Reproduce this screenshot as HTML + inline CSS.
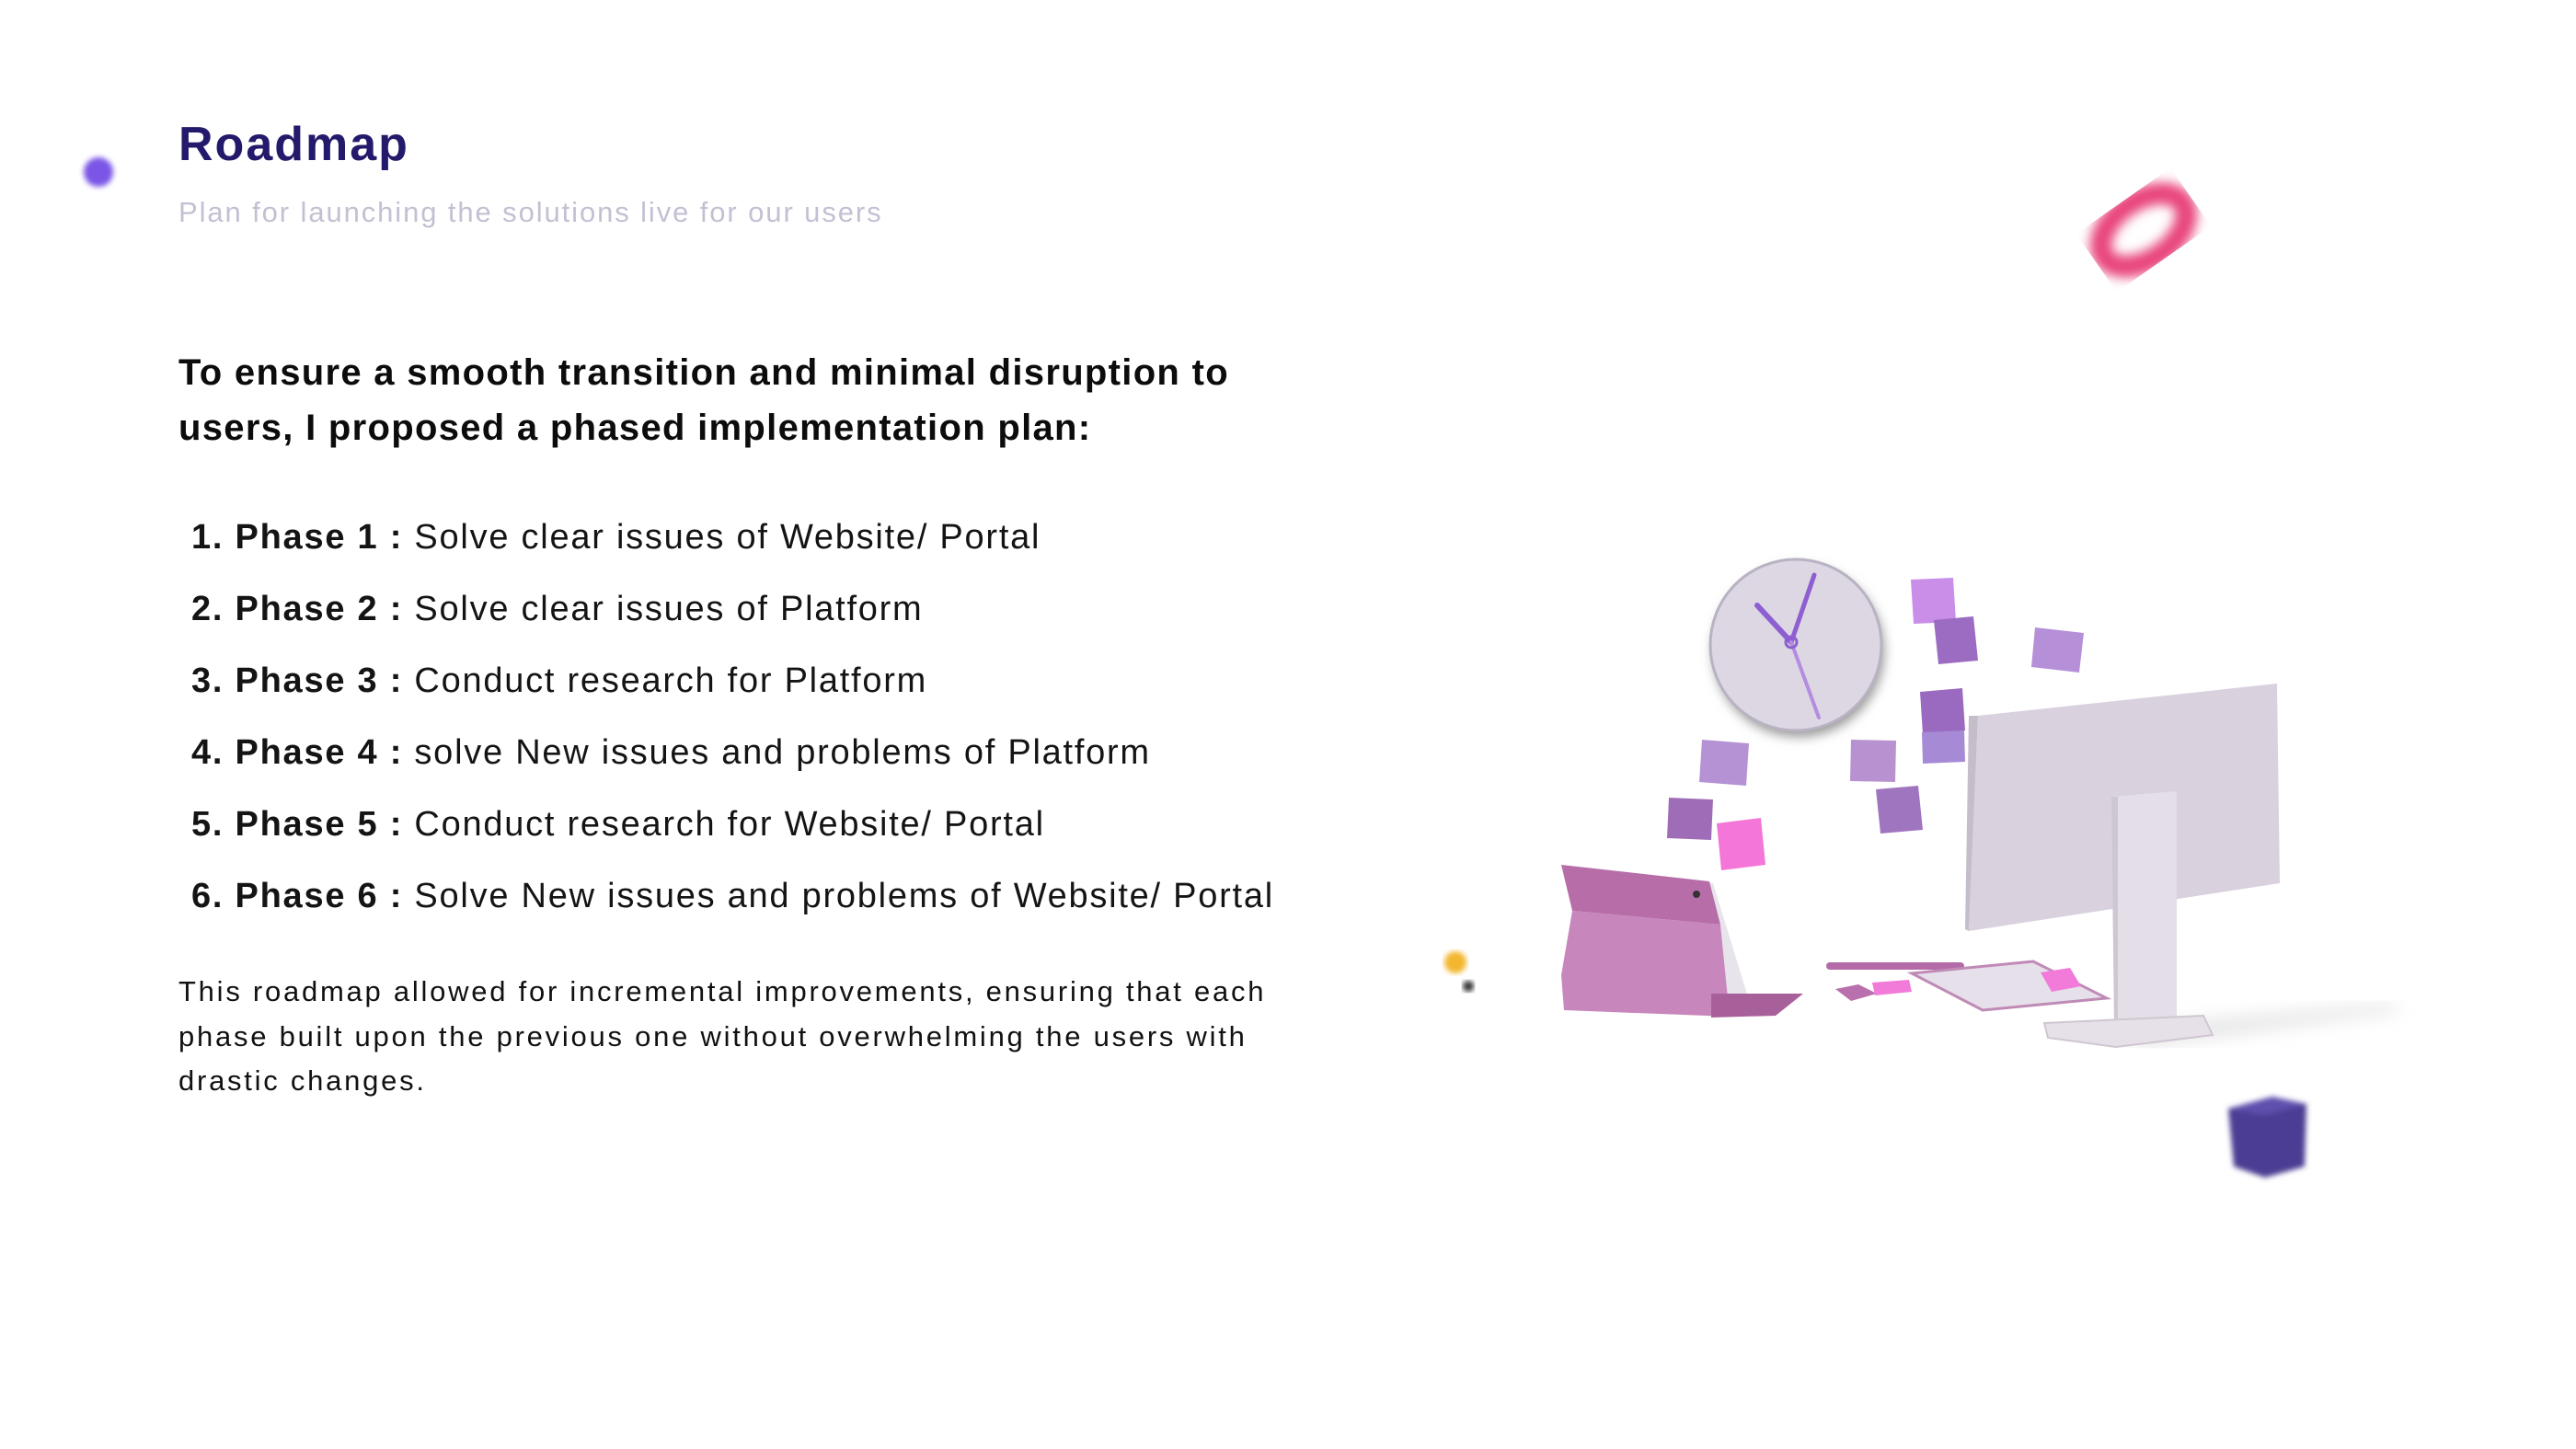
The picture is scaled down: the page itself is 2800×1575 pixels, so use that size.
<!DOCTYPE html>
<html><head><meta charset="utf-8"><style>
html,body{margin:0;padding:0;background:#fff;}
body{width:2800px;height:1575px;position:relative;overflow:hidden;font-family:"Liberation Sans",sans-serif;}
.t{position:absolute;white-space:nowrap;margin:0;}
#title{left:194px;top:127px;font-size:52px;line-height:60px;font-weight:bold;color:#241a6b;letter-spacing:2px;}
#sub{left:194px;top:211px;font-size:31px;line-height:40px;color:#c2c1d3;letter-spacing:1.9px;}
.h{left:194px;font-size:40px;line-height:60px;font-weight:bold;color:#0c0c0c;letter-spacing:1.3px;}
.li{left:208px;font-size:38px;line-height:78px;color:#141414;letter-spacing:1.75px;}
.li b{font-weight:bold;}
.p{left:194px;font-size:31px;line-height:48.5px;color:#111;letter-spacing:2.75px;}
</style></head><body>
<div style="position:absolute;left:91px;top:171px;width:32px;height:32px;border-radius:50%;background:#7b55e6;filter:blur(3px);"></div>
<div class="t" id="title">Roadmap</div>
<div class="t" id="sub">Plan for launching the solutions live for our users</div>
<div class="t h" style="top:375px;">To ensure a smooth transition and minimal disruption to</div>
<div class="t h" style="top:435px;">users, I proposed a phased implementation plan:</div>
<div class="t li" style="top:545px;"><b>1. Phase 1 :</b> Solve clear issues of Website/ Portal</div>
<div class="t li" style="top:623px;"><b>2. Phase 2 :</b> Solve clear issues of Platform</div>
<div class="t li" style="top:701px;"><b>3. Phase 3 :</b> Conduct research for Platform</div>
<div class="t li" style="top:779px;"><b>4. Phase 4 :</b> solve New issues and problems of Platform</div>
<div class="t li" style="top:857px;"><b>5. Phase 5 :</b> Conduct research for Website/ Portal</div>
<div class="t li" style="top:935px;"><b>6. Phase 6 :</b> Solve New issues and problems of Website/ Portal</div>
<div class="t p" style="top:1054px;">This roadmap allowed for incremental improvements, ensuring that each</div>
<div class="t p" style="top:1102.5px;">phase built upon the previous one without overwhelming the users with</div>
<div class="t p" style="top:1151px;">drastic changes.</div>

<svg style="position:absolute;left:0;top:0" width="2800" height="1575" viewBox="0 0 2800 1575">
<defs>
<filter id="b6"><feGaussianBlur stdDeviation="6"/></filter>
<filter id="b3"><feGaussianBlur stdDeviation="3"/></filter>
<filter id="b10"><feGaussianBlur stdDeviation="10"/></filter>
</defs>
<ellipse cx="2330" cy="250" rx="52" ry="32" transform="rotate(-35 2330 250)" fill="none" stroke="#e8457d" stroke-width="24" filter="url(#b6)"/>
<g filter="url(#b3)">
<polygon points="2422,1205 2470,1192 2507,1200 2505,1268 2462,1280 2428,1268" fill="#4b3c93"/>
<polygon points="2422,1205 2470,1192 2507,1200 2462,1212" fill="#5e4fae"/>
</g>
<circle cx="1582" cy="1046" r="12" fill="#f3b62d" filter="url(#b3)"/>
<circle cx="1596" cy="1072" r="6" fill="#333" filter="url(#b3)"/>
<polygon points="2300,1120 2600,1092 2610,1098 2330,1135" fill="#ddd" filter="url(#b10)"/>
<circle cx="1955" cy="708" r="93" fill="#999" filter="url(#b6)"/>
<circle cx="1952" cy="701" r="93" fill="#dcd7e3" stroke="#b8b2c2" stroke-width="3"/>
<line x1="1947" y1="698" x2="1910" y2="658" stroke="#8d5fd0" stroke-width="6" stroke-linecap="round"/>
<line x1="1947" y1="698" x2="1972" y2="625" stroke="#8d5fd0" stroke-width="5" stroke-linecap="round"/>
<line x1="1947" y1="698" x2="1977" y2="780" stroke="#b48ce0" stroke-width="4" stroke-linecap="round"/>
<circle cx="1947" cy="698" r="6" fill="none" stroke="#8d5fd0" stroke-width="3"/>
<g>
<polygon points="2077,630 2123,628 2126,676 2080,678" fill="#c88ee8"/>
<polygon points="2102,674 2145,670 2150,718 2107,722" fill="#9b6cc2"/>
<polygon points="2212,682 2265,688 2260,731 2208,725" fill="#b590d8"/>
<polygon points="2087,752 2133,748 2136,794 2090,798" fill="#9a6ac0"/>
<polygon points="2089,796 2135,794 2136,828 2090,830" fill="#a78ad6"/>
<polygon points="2012,804 2061,805 2060,850 2011,849" fill="#b892d0"/>
<polygon points="1850,804 1901,808 1898,854 1847,850" fill="#b592d4"/>
<polygon points="2039,858 2085,854 2090,902 2044,906" fill="#a075bf"/>
<polygon points="1814,867 1862,869 1860,913 1812,911" fill="#9f6db7"/>
<polygon points="1866,895 1914,889 1919,940 1871,946" fill="#f376d8"/>
</g>
<polygon points="1700,942 1862,960 1905,1100 1870,1104" fill="#e8e4ec"/>
<polygon points="1697,940 1858,958 1870,1005 1709,990" fill="#b76ea8"/>
<polygon points="1709,990 1870,1005 1880,1105 1700,1098 1697,1060" fill="#c887bc"/>
<polygon points="1860,1080 1960,1080 1930,1104 1860,1106" fill="#a8609a"/>
<circle cx="1844" cy="972" r="4" fill="#333"/>
<rect x="1985" y="1046" width="150" height="8" rx="4" fill="#b36aa6"/>
<polygon points="1995,1075 2020,1070 2040,1080 2012,1088" fill="#b870ae"/>
<polygon points="2035,1068 2075,1065 2078,1078 2038,1082" fill="#f27ad8"/>
<polygon points="2078,1058 2210,1045 2290,1085 2155,1098" fill="#e6e0ea" stroke="#c08ab6" stroke-width="3"/>
<polygon points="2218,1057 2250,1052 2262,1072 2230,1078" fill="#f27ad8"/>
<polygon points="2150,778 2475,743 2478,960 2140,1012" fill="#d9d1de"/>
<polygon points="2140,778 2150,778 2140,1012 2136,1010" fill="#c6bdca"/>
<polygon points="2295,866 2366,860 2366,1110 2298,1112" fill="#e4dee8"/>
<polygon points="2295,866 2302,866 2302,1112 2298,1112" fill="#cfc6d3"/>
<polygon points="2222,1112 2395,1104 2405,1125 2300,1138 2226,1128" fill="#e6e0e9" stroke="#cfc6d2" stroke-width="2"/>
</svg>
</body></html>
